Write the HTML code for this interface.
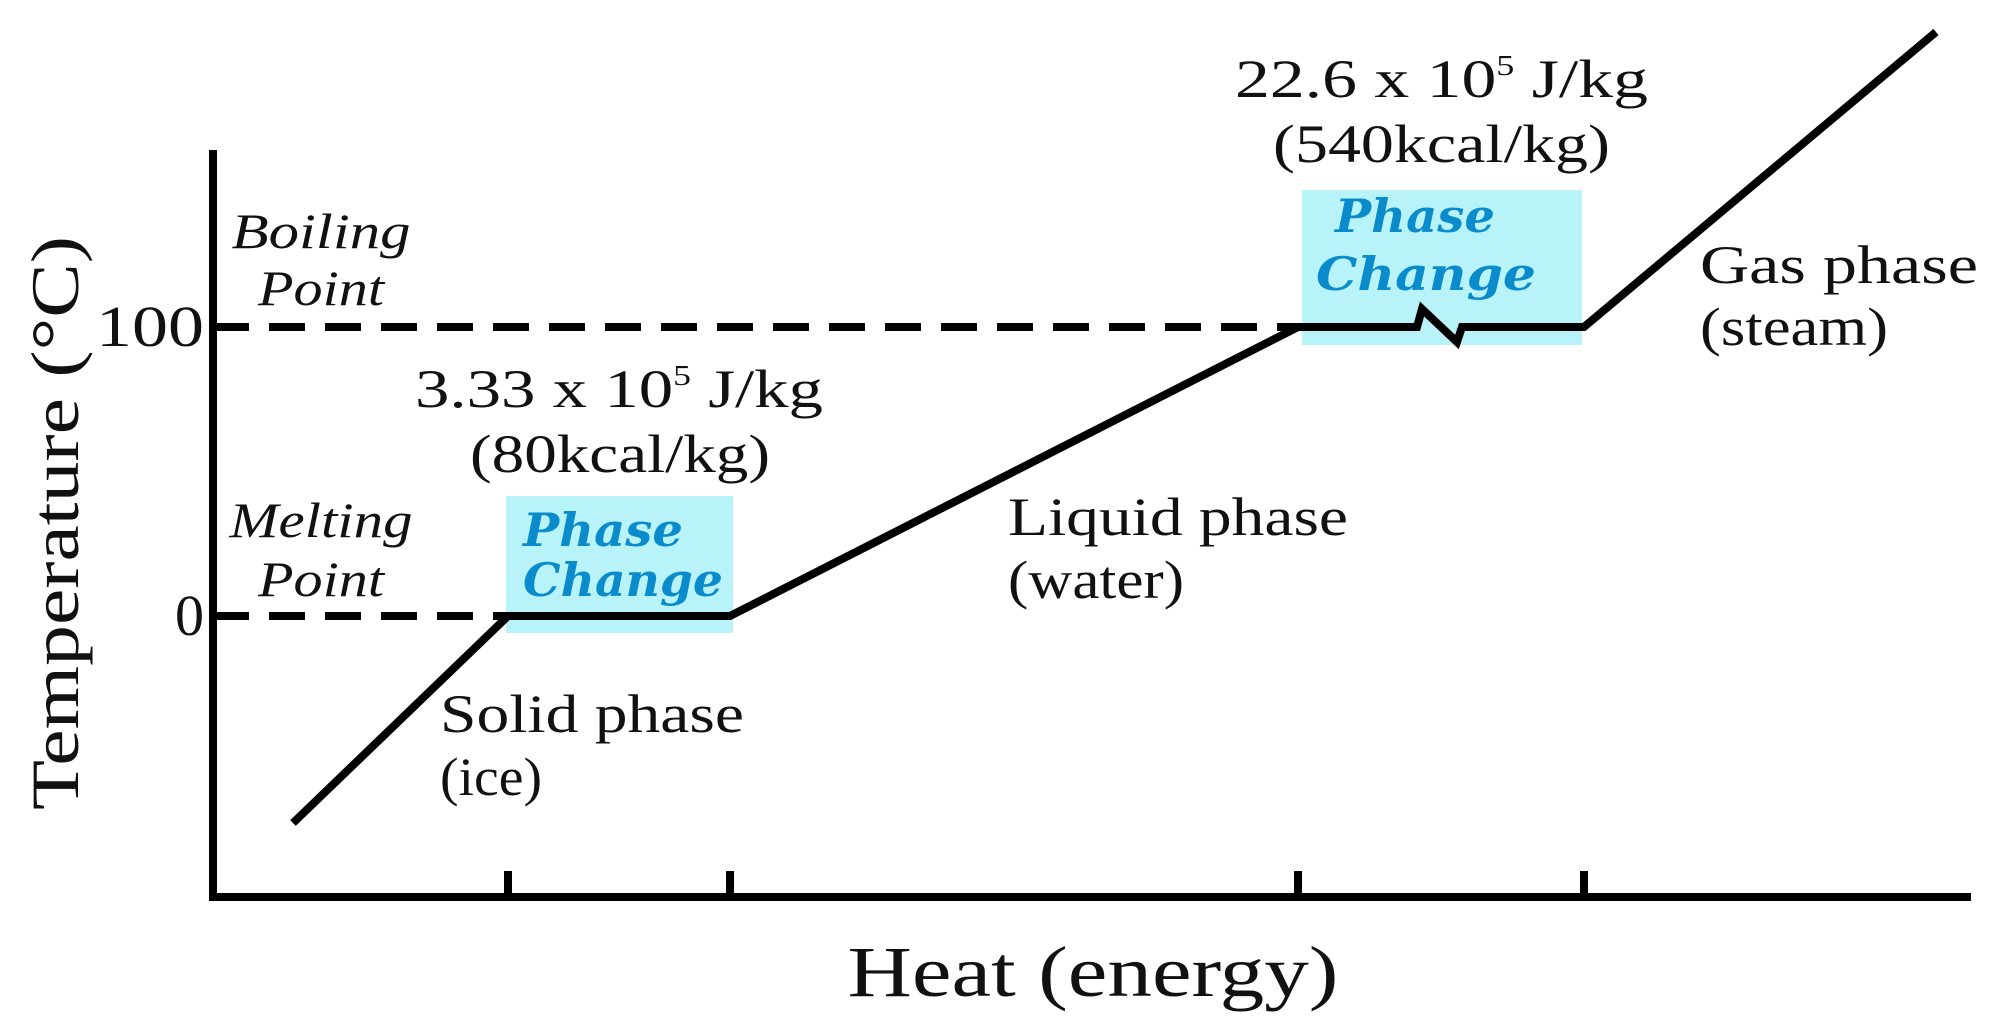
<!DOCTYPE html>
<html><head><meta charset="utf-8"><style>
html,body{margin:0;padding:0;background:#fff;}
svg{display:block;}
text{font-family:"Liberation Serif",serif;fill:#111;}
.b{fill:#0a8ccc;font-family:"DejaVu Serif","Liberation Serif",serif;font-style:italic;font-weight:bold;}
</style></head><body>
<svg width="2000" height="1023" viewBox="0 0 2000 1023" xmlns="http://www.w3.org/2000/svg">
<rect x="506" y="496" width="227" height="137" fill="#b9f3fa"/>
<rect x="1302" y="190" width="280" height="155" fill="#b9f3fa"/>
<g stroke="#000" stroke-width="8" fill="none">
<path d="M213 150 V897 H1971"/>
<path d="M508 871V897M730 871V897M1298 871V897M1584 871V897"/>
<path d="M213 327H1301M213 616H508" stroke-dasharray="36 20"/>
<path d="M293 823L508 616H730L1298 327H1417L1422 309L1457 342L1462 327H1584L1936 32" stroke-linejoin="miter"/>
</g>
<text x="204" y="346" font-size="58" text-anchor="end" textLength="108" lengthAdjust="spacingAndGlyphs">100</text>
<text x="204" y="635" font-size="58" text-anchor="end">0</text>
<text transform="translate(78,523) rotate(-90)" font-size="68" text-anchor="middle" textLength="574" lengthAdjust="spacingAndGlyphs">Temperature (°C)</text>
<text x="1093" y="996" font-size="72" text-anchor="middle" textLength="491" lengthAdjust="spacingAndGlyphs">Heat (energy)</text>
<g font-style="italic" font-size="50" text-anchor="middle">
<text x="321" y="248" textLength="179" lengthAdjust="spacingAndGlyphs">Boiling</text><text x="321" y="305" textLength="126" lengthAdjust="spacingAndGlyphs">Point</text>
<text x="321" y="537" textLength="183" lengthAdjust="spacingAndGlyphs">Melting</text><text x="321" y="596" textLength="126" lengthAdjust="spacingAndGlyphs">Point</text>
</g>
<g font-size="54">
<text x="415" y="407" textLength="408" lengthAdjust="spacingAndGlyphs">3.33 x 10<tspan font-size="28" dy="-22">5</tspan><tspan dy="22"> J/kg</tspan></text>
<text x="470" y="472" textLength="300" lengthAdjust="spacingAndGlyphs">(80kcal/kg)</text>
<text x="1235" y="97" textLength="413" lengthAdjust="spacingAndGlyphs">22.6 x 10<tspan font-size="28" dy="-22">5</tspan><tspan dy="22"> J/kg</tspan></text>
<text x="1273" y="162" textLength="337" lengthAdjust="spacingAndGlyphs">(540kcal/kg)</text>
<text x="440" y="732" textLength="304" lengthAdjust="spacingAndGlyphs">Solid phase</text>
<text x="440" y="795" textLength="102" lengthAdjust="spacingAndGlyphs">(ice)</text>
<text x="1008" y="535" textLength="340" lengthAdjust="spacingAndGlyphs">Liquid phase</text>
<text x="1008" y="598" textLength="176" lengthAdjust="spacingAndGlyphs">(water)</text>
<text x="1700" y="283" textLength="278" lengthAdjust="spacingAndGlyphs">Gas phase</text>
<text x="1700" y="345" textLength="188" lengthAdjust="spacingAndGlyphs">(steam)</text>
</g>
<g font-size="46">
<text class="b" x="523" y="546" textLength="160" lengthAdjust="spacingAndGlyphs">Phase</text>
<text class="b" x="523" y="596" textLength="200" lengthAdjust="spacingAndGlyphs">Change</text>
<text class="b" x="1335" y="232" textLength="160" lengthAdjust="spacingAndGlyphs">Phase</text>
<text class="b" x="1316" y="290" textLength="220" lengthAdjust="spacingAndGlyphs">Change</text>
</g>
</svg>
</body></html>
